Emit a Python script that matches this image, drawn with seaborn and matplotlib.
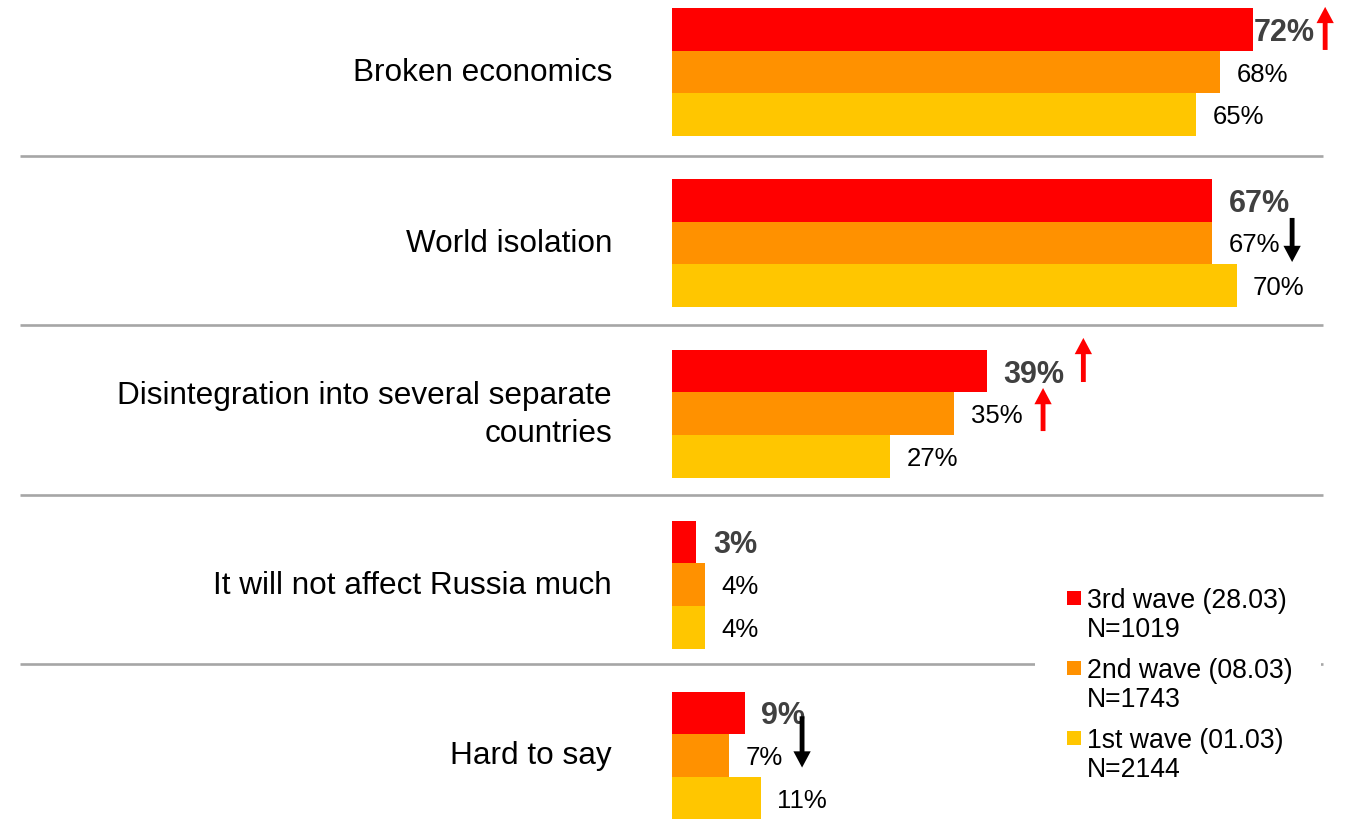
import matplotlib
matplotlib.use("Agg")
import matplotlib.pyplot as plt
import matplotlib.transforms as mtransforms
from matplotlib.patches import Rectangle
import pandas as pd
import seaborn as sns

# ---- data -------------------------------------------------------------
categories = [
    "Broken economics",
    "World isolation",
    "Disintegration into several separate\ncountries",
    "It will not affect Russia much",
    "Hard to say",
]
waves = ["3rd wave (28.03)", "2nd wave (08.03)", "1st wave (01.03)"]
wave_sizes = ["N=1019", "N=1743", "N=2144"]

wave3 = [72, 67, 39, 3, 9]
wave2 = [68, 67, 35, 4, 7]
wave1 = [65, 70, 27, 4, 11]

# change markers: (category index, wave index, direction)
changes = [
    (0, 0, "up"),
    (1, 1, "down"),
    (2, 0, "up"),
    (2, 1, "up"),
    (4, 1, "down"),
]

# ---- style ------------------------------------------------------------
colors = {waves[0]: "#FF0000", waves[1]: "#FF9100", waves[2]: "#FFC600"}
sep_color = "#A6A6A6"
W, H = 1348, 819

sns.set_style("white")
plt.rcParams["font.family"] = ["Liberation Sans", "DejaVu Sans"]

df = pd.DataFrame({
    "category": categories * 3,
    "wave": [w for w in waves for _ in categories],
    "value": wave3 + wave2 + wave1,
})

fig = plt.figure(figsize=(W / 100, H / 100), dpi=100)
x0_px = 672.3
px_per_pct = 8.06
ax = fig.add_axes([x0_px / W, 0, 1 - x0_px / W, 1])

sns.barplot(
    data=df, x="value", y="category", hue="wave",
    order=categories, hue_order=waves, palette=colors,
    orient="h", width=0.75, saturation=1, errorbar=None,
    legend=False, linewidth=0, ax=ax,
)

group_px = 170.9
first_center_px = 72.0
ax.set_xlim(0, (W - x0_px) / px_per_pct)
ax.set_ylim((H - first_center_px) / group_px, -first_center_px / group_px)

ax.set_xlabel("")
ax.set_ylabel("")
ax.set_xticks([])
ax.set_yticks([])
for s in ax.spines.values():
    s.set_visible(False)

# category labels, right-aligned 60 px left of the bars
lab_tr = mtransforms.blended_transform_factory(fig.transFigure, ax.transData)
for i, cat in enumerate(categories):
    if "\n" in cat:
        ax.text(612 / W, i + 0.008, cat, transform=lab_tr, ha="right", va="center",
                fontsize=22.7, linespacing=1.32, color="black")
    else:
        ax.text(612 / W, i + 0.052, cat, transform=lab_tr, ha="right", va="baseline",
                fontsize=22.7, color="black")

# value labels
label_pad = 2.05
for wi, cont in enumerate(ax.containers):
    for ci, bar in enumerate(cont):
        v = bar.get_width()
        yc = bar.get_y() + bar.get_height() / 2
        pad = label_pad
        if wi == 0 and ci == 0:
            pad = 0.15
        if wi == 0:
            ax.text(v + pad, yc, f"{v:.0f}%", ha="left", va="center_baseline",
                    fontsize=22, fontweight="bold", color="#404040")
        else:
            ax.text(v + pad, yc, f"{v:.0f}%", ha="left", va="center_baseline",
                    fontsize=18.5, color="black")

# change arrows, placed just right of the value label
arrow_x = {(0, 0): 81.0, (1, 1): 76.9, (2, 0): 51.0, (2, 1): 46.0, (4, 1): 16.1}
arrow_dy = {(0, 0): -0.005, (1, 1): -0.017, (2, 0): -0.065, (2, 1): -0.025, (4, 1): -0.08}
arrow_len = {(0, 0): 0.252, (1, 1): 0.258, (2, 0): 0.258, (2, 1): 0.252, (4, 1): 0.30}
for ci, wi, direction in changes:
    bar = ax.containers[wi][ci]
    yc = bar.get_y() + bar.get_height() / 2 + arrow_dy[(ci, wi)]
    L = arrow_len[(ci, wi)]
    col = "#FF0000" if direction == "up" else "black"
    if direction == "up":
        start, d = yc + L / 2, -L
    else:
        start, d = yc - L / 2, L
    ax.arrow(arrow_x[(ci, wi)], start, 0, d, width=0.6, head_width=2.15,
             head_length=0.095, length_includes_head=True, color=col,
             linewidth=0, clip_on=False, zorder=5)

# separators between groups
sep_pos = [0.489, 1.483, 2.477, 3.464]
blend = mtransforms.blended_transform_factory(fig.transFigure, ax.transData)
for yp in sep_pos:
    ax.plot([20 / W, 1323 / W], [yp, yp], color=sep_color, lw=1.9,
            transform=blend, clip_on=False, zorder=1, solid_capstyle="butt")

# legend
def fy(py):
    return 1 - py / H

fig.patches.append(Rectangle((1035 / W, fy(790)), (1321 - 1035) / W, (790 - 578) / H,
                             transform=fig.transFigure, facecolor="white",
                             edgecolor="none", zorder=3))
for i, (w, n) in enumerate(zip(waves, wave_sizes)):
    yl = 598 + 70 * i
    fig.patches.append(Rectangle((1067 / W, fy(yl + 7)), 14 / W, 14 / H,
                                 transform=fig.transFigure, facecolor=colors[w],
                                 edgecolor="none", zorder=4))
    fig.text(1087 / W, fy(yl), w, ha="left", va="center_baseline", fontsize=19.2,
             color="black", zorder=4)
    fig.text(1087 / W, fy(yl + 29), n, ha="left", va="center_baseline", fontsize=19.2,
             color="black", zorder=4)

fig.savefig("out.png", dpi=100)
